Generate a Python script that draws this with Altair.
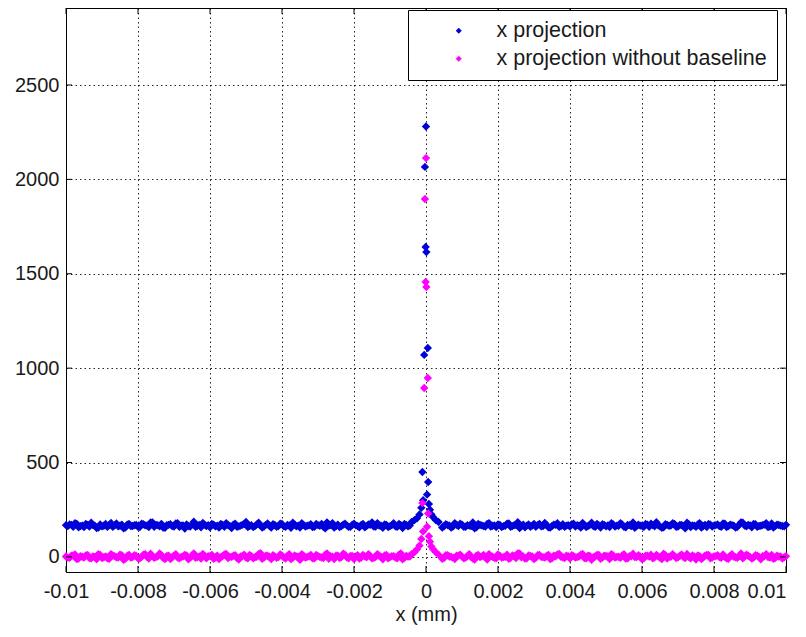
import altair as alt
import pandas as pd

# ---------------- data ----------------
X_TICKS = [-0.01, -0.008, -0.006, -0.004, -0.002, 0, 0.002, 0.004, 0.006, 0.008, 0.01]
Y_TICKS = [0, 500, 1000, 1500, 2000, 2500]
SERIES = ["x projection", "x projection without baseline"]
COLORS = ["#0000d8", "#ff00ff"]

BASE_START = -0.01
BASE_STEP = 0.0001

# baseline samples on the main grid
BLUE_BASE = [
    168, 172, 160, 175, 163, 158, 170, 181, 166, 155, 162, 174, 169, 159, 177, 165, 152, 171, 163, 168,
    160, 176, 167, 158, 183, 170, 162, 155, 168, 173, 161, 178, 166, 150, 164, 172, 159, 169, 180, 163,
    157, 171, 165, 174, 160, 168, 153, 176, 162, 170, 185, 164, 158, 172, 166, 161, 177, 155, 169, 163,
    174, 159, 167, 181, 162, 156, 170, 165, 173, 160, 168, 175, 151, 166, 179, 163, 158, 171, 167, 160,
    176, 164, 169, 157, 172, 183, 161, 166, 154, 170, 163, 178, 159, 168, 174, 162, 156, 171, 165, 160,
    167, 173, 158, 170, 175, 162, 168, 155, 179, 164, 171, 160, 166, 182, 157, 169, 163, 174, 161, 167,
    172, 158, 165, 177, 163, 169, 153, 171, 166, 160, 175, 168, 162, 180, 157, 164, 170, 159, 173, 166,
    161, 176, 168, 155, 170, 164, 181, 159, 167, 173, 162, 158, 172, 166, 178, 160, 169, 163, 154, 171,
    165, 174, 160, 168, 184, 162, 157, 170, 166, 175, 161, 169, 152, 173, 167, 160, 179, 164, 158, 171,
    166, 172, 159, 176, 163, 168, 155, 170, 181, 162, 167, 174, 160, 165, 171, 158, 177, 163, 169, 164,
    170,
]
# baseline samples half-way between the main grid points
BLUE_BASE_MID = [
    163, 170, 178, 157, 166, 174, 161, 168, 153, 172, 165, 159, 180, 167, 162, 171, 156, 175, 164, 169,
    158, 173, 166, 182, 160, 168, 175, 154, 170, 163, 177, 159, 167, 172, 161, 186, 165, 157, 171, 168,
    174, 162, 155, 169, 179, 164, 171, 160, 166, 175, 158, 168, 163, 181, 156, 170, 165, 173, 160, 176,
    162, 169, 154, 172, 166, 178, 161, 167, 158, 174, 165, 160, 183, 168, 155, 171, 163, 176, 159, 169,
    167, 157, 174, 164, 170, 161, 179, 165, 172, 158, 168, 162, 175, 153, 169, 166, 180, 163, 171, 160,
    164, 178, 162, 169, 156, 173, 166, 161, 170, 176, 159, 168, 164, 152, 174, 167, 161, 179, 165, 158,
    170, 163, 176, 160, 168, 184, 162, 157, 172, 166, 160, 175, 163, 169, 155, 171, 178, 164, 160, 168,
    173, 161, 166, 180, 158, 169, 163, 175, 156, 170, 167, 179, 161, 165, 172, 157, 168, 182, 163, 166,
    159, 171, 176, 162, 167, 154, 173, 165, 178, 160, 169, 163, 181, 158, 166, 172, 155, 170, 174, 161,
    168, 163, 177, 158, 171, 165, 160, 183, 166, 170, 157, 173, 164, 168, 178, 161, 156, 171, 166, 162,
]

MAGENTA_BASE = [
    2, -5, 8, -12, 4, -3, 10, -8, 0, 15, -6, 3, -10, 7, -2, 12, -15, 5, -4, 9,
    -7, 1, 14, -9, 3, -1, 18, -6, 5, -11, 8, -3, 0, 11, -13, 6, -5, 2, 16, -8,
    4, -10, 7, -2, 13, -6, 0, 9, -14, 5, -3, 10, -7, 1, 20, -4, 6, -12, 3, -1,
    8, -9, 15, -5, 2, -16, 6, 0, 11, -7, 4, -3, 12, -10, 1, 7, -6, 17, -2, 5,
    -11, 9, -4, 3, 14, -8, 0, 6, -13, 10, -1, 4, -7, 19, -5, 2, 8, -9, 11, -3,
    5, -2, 12, -8, 3, -6, 9, 0, -11, 7, 2, -4, 15, -9, 6, -1, 10, -14, 4, -5,
    13, -3, 1, -10, 8, -6, 18, 2, -7, 5, -12, 9, 0, -4, 11, -8, 3, 16, -2, 6,
    -9, 4, -1, 12, -6, 7, -15, 2, 10, -3, 5, -11, 8, 0, -5, 14, -8, 3, -1, 9,
    -12, 6, 2, -7, 11, -4, 17, -9, 1, 5, -2, 13, -6, 0, 8, -14, 4, -3, 10, -7,
    3, 9, -5, 1, -10, 14, -2, 6, -8, 12, 0, -4, 7, -13, 5, -1, 11, -6, 2, -9,
    4,
]
MAGENTA_BASE_MID = [
    -4, 6, 13, -9, 1, 8, -6, 3, -13, 10, -2, -7, 15, 4, -3, 9, -10, 11, -1, 5,
    -8, 12, 0, 17, -5, 3, 10, -12, 6, -2, 14, -7, 2, 8, -4, 19, -1, -9, 7, 4,
    11, -3, -11, 5, 16, 0, 7, -6, 2, 12, -8, 4, -2, 15, -10, 6, 1, 9, -5, 13,
    -3, 5, -12, 8, 1, 14, -4, 3, -8, 10, 0, -6, 18, 4, -11, 7, -1, 12, -7, 5,
    3, -9, 11, -2, 6, -5, 15, 1, 8, -8, 4, -3, 12, -13, 5, 2, 16, -1, 7, -6,
    0, 14, -3, 5, -10, 9, 2, -4, 6, 12, -7, 4, 0, -14, 10, 3, -4, 15, 1, -8,
    6, -1, 12, -5, 4, 19, -2, -9, 8, 2, -5, 11, -1, 5, -11, 7, 13, 0, -6, 4,
    9, -3, 2, 16, -8, 5, -1, 11, -10, 6, 3, 15, -3, 1, 8, -9, 4, 17, -1, 2,
    -7, 7, 12, -2, 3, -12, 9, 1, 14, -6, 5, -1, 16, -8, 2, 8, -11, 6, 10, -3,
    4, -1, 13, -8, 7, 1, -5, 18, 2, 6, -9, 9, 0, 4, 14, -3, -10, 7, 2, -2,
]

PEAK_X = [-0.0004, -0.00032, -0.00025, -0.00018, -0.00013, -0.0001, -0.00008, -0.00005,
          -0.00003, -0.00001, 0.0, 0.00001, 0.00003, 0.00005, 0.00006, 0.00008, 0.00011,
          0.00015, 0.0002, 0.00027, 0.00035]
PEAK_BLUE = [185, 195, 205, 225, 260, 450, 300, 1070, 2066, 1642, 2280, 1615, 330, 1107,
             397, 280, 250, 225, 210, 195, 185]
PEAK_MAGENTA = [15, 25, 40, 60, 95, 285, 135, 895, 1896, 1457, 2113, 1430, 160, 948,
                230, 110, 80, 55, 40, 25, 12]

# ---------------- build table ----------------
rows = []
for name, base, mid, peak in [(SERIES[0], BLUE_BASE, BLUE_BASE_MID, PEAK_BLUE),
                              (SERIES[1], MAGENTA_BASE, MAGENTA_BASE_MID, PEAK_MAGENTA)]:
    for i, v in enumerate(base):
        xv = round(BASE_START + i * BASE_STEP, 7)
        if abs(xv) < 0.00045:
            continue
        rows.append({"x": xv, "y": v, "series": name})
    for i, v in enumerate(mid):
        xv = round(BASE_START + (i + 0.5) * BASE_STEP, 7)
        if abs(xv) < 0.00045:
            continue
        rows.append({"x": xv, "y": v, "series": name})
    for xv, v in zip(PEAK_X, peak):
        rows.append({"x": xv, "y": v, "series": name})
df = pd.DataFrame(rows)

xt = pd.DataFrame({"x": X_TICKS})
yt = pd.DataFrame({"y": Y_TICKS})

W, H = 720, 564
XDOM = [-0.01, 0.01]
YDOM = [-80, 2908]
TICK = 6

xscale = alt.Scale(domain=XDOM, nice=False, zero=False)
yscale = alt.Scale(domain=YDOM, nice=False, zero=False)
xaxis = alt.Axis(values=X_TICKS, title="x (mm)", labelExpr="'' + datum.value",
                 labelPadding=9, titlePadding=3, labelOverlap=False, labelFlush=False,
                 labelAlign={"condition": {"test": "datum.value >= 0.0099", "value": "right"},
                             "value": "center"})
yaxis = alt.Axis(values=Y_TICKS, title=None, labelPadding=7, labelExpr="'' + datum.value",
                 labelOverlap=False, labelFlush=False)

points = alt.Chart(df).mark_point(shape="diamond", filled=True, size=70, opacity=1).encode(
    x=alt.X("x:Q", scale=xscale, axis=xaxis),
    y=alt.Y("y:Q", scale=yscale, axis=yaxis),
    color=alt.Color("series:N",
                    scale=alt.Scale(domain=SERIES, range=COLORS),
                    legend=alt.Legend(title=None, orient="none", legendX=342, legendY=2)),
)

tb = alt.Chart(xt).mark_rule(color="black", strokeWidth=1).encode(
    x=alt.X("x:Q", scale=xscale, axis=xaxis), y=alt.value(H), y2=alt.value(H - TICK))
tt = alt.Chart(xt).mark_rule(color="black", strokeWidth=1).encode(
    x=alt.X("x:Q", scale=xscale, axis=xaxis), y=alt.value(0), y2=alt.value(TICK))
tl = alt.Chart(yt).mark_rule(color="black", strokeWidth=1).encode(
    y=alt.Y("y:Q", scale=yscale, axis=yaxis), x=alt.value(0), x2=alt.value(TICK))
tr = alt.Chart(yt).mark_rule(color="black", strokeWidth=1).encode(
    y=alt.Y("y:Q", scale=yscale, axis=yaxis), x=alt.value(W), x2=alt.value(W - TICK))

chart = alt.layer(points, tb, tt, tl, tr).properties(
    width=W, height=H,
    padding={"left": 58, "top": 0, "right": 12, "bottom": 54},
    autosize=alt.AutoSizeParams(type="none"),
    background="white",
).configure_view(
    stroke="black", strokeWidth=1
).configure_axis(
    labelFont="Liberation Sans", labelFontSize=20, labelColor="#1a1a1a",
    titleFont="Liberation Sans", titleFontSize=20, titleFontWeight="normal", titleColor="#1a1a1a",
    ticks=False, tickSize=0, domain=False,
    grid=True, gridColor="#000000", gridOpacity=0.85, gridDash=[1.5, 3], gridWidth=1,
).configure_legend(
    labelFont="Liberation Sans", labelFontSize=21.5, labelColor="#1a1a1a", labelLimit=500,
    symbolType="diamond", symbolSize=36, symbolStrokeWidth=0,
    strokeColor="black", fillColor="white", cornerRadius=0,
    padding=10, symbolOffset=30, labelOffset=27, rowPadding=5,
)

chart.save("out.html", embed_options={"renderer": "svg", "actions": False})
